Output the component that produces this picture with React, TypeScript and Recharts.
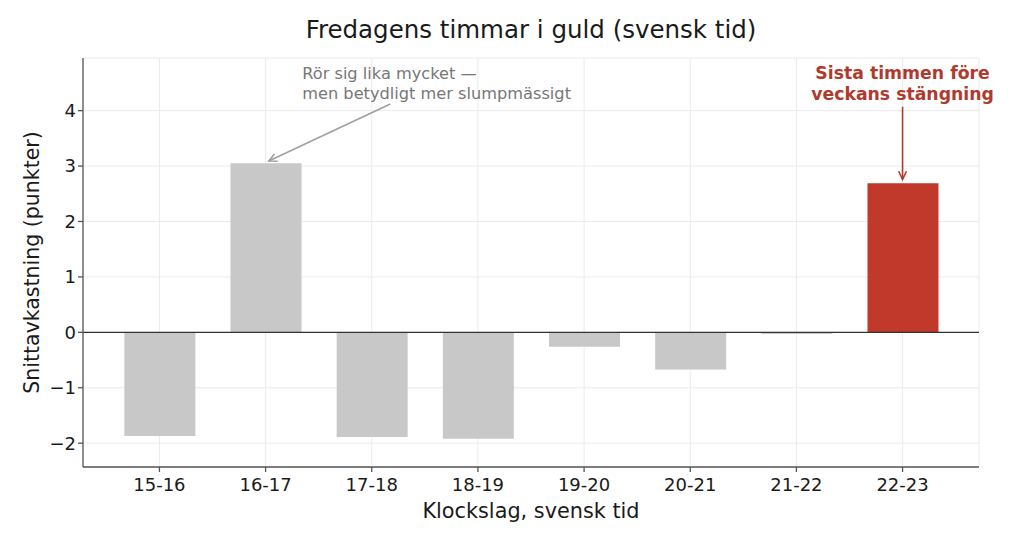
import { BarChart, Bar, Cell, XAxis, YAxis, CartesianGrid, ReferenceLine, ReferenceDot } from "recharts";

// Friday hours, Swedish time
const hours = ["15-16", "16-17", "17-18", "18-19", "19-20", "20-21", "21-22", "22-23"];
const avgReturn = [-1.87, 3.05, -1.89, -1.92, -0.26, -0.67, -0.03, 2.69];
const highlightHour = "22-23";
const yTicks = [-2, -1, 0, 1, 2, 3, 4];

const data = hours.map((h, i) => ({ idx: i, hour: h, value: avgReturn[i] }));
const hlIdx = hours.indexOf(highlightHour);

const FONT = "'DejaVu Sans', sans-serif";
const GRAY = "#c8c8c8";
const RED = "#c0392b";
const NOTE_GRAY = "#777777";
const NOTE_RED = "#b03a2e";
const AXIS = "#555555";

const minus = (v: number) => String(v).replace("-", "\u2212");

// line with an open arrow head at (x2, y2)
const arrow = (color: string) => (p: any) => {
  const { x1, y1, x2, y2 } = p;
  const a = Math.atan2(y2 - y1, x2 - x1);
  const L = 9;
  const s = 0.45;
  const h1x = x2 - L * Math.cos(a - s);
  const h1y = y2 - L * Math.sin(a - s);
  const h2x = x2 - L * Math.cos(a + s);
  const h2y = y2 - L * Math.sin(a + s);
  return (
    <g>
      <line x1={x1} y1={y1} x2={x2} y2={y2} stroke={color} strokeWidth={1.6} />
      <polyline points={`${h1x},${h1y} ${x2},${y2} ${h2x},${h2y}`} fill="none" stroke={color} strokeWidth={1.6} />
    </g>
  );
};

const grayNote = (p: any) => {
  const vb = p.viewBox || {};
  return (
    <text x={vb.x} y={vb.y} fill={NOTE_GRAY} fontSize={16.2} fontFamily={FONT}>
      <tspan x={vb.x} dy={6}>Rör sig lika mycket —</tspan>
      <tspan x={vb.x} dy={20}>men betydligt mer slumpmässigt</tspan>
    </text>
  );
};

const redNote = (p: any) => {
  const vb = p.viewBox || {};
  const cx = vb.x + (vb.width || 0) / 2;
  return (
    <text x={cx} y={vb.y} fill={NOTE_RED} fontSize={17.3} fontWeight="bold" fontFamily={FONT} textAnchor="middle">
      <tspan x={cx} dy={6}>Sista timmen före</tspan>
      <tspan x={cx} dy={21}>veckans stängning</tspan>
    </text>
  );
};

const App = () => {
  return (
    <div style={{ position: "absolute", left: 0, top: 0, width: 1024, height: 540, background: "#fff", fontFamily: FONT }}>
      <div
        style={{
          position: "absolute",
          left: 83,
          width: 896,
          top: 15,
          textAlign: "center",
          fontSize: 24.5,
          color: "#1a1a1a",
        }}
      >
        Fredagens timmar i guld (svensk tid)
      </div>
      <BarChart
        width={1024}
        height={540}
        data={data}
        margin={{ top: 58, right: 45, bottom: 0, left: 0 }}
        style={{ fontFamily: FONT }}
      >
        <CartesianGrid stroke="#ebebeb" strokeWidth={1} />
        <XAxis
          dataKey="idx"
          type="number"
          scale="linear"
          domain={[-0.72, 7.72]}
          allowDataOverflow
          ticks={hours.map((_, i) => i)}
          interval={0}
          tickFormatter={(v: number) => hours[v]}
          height={73}
          stroke={AXIS}
          strokeWidth={1.3}
          tickSize={5}
          tick={{ fill: "#1a1a1a", fontSize: 18, fontFamily: FONT, dy: 4 }}
          label={{ value: "Klockslag, svensk tid", position: "insideBottom", offset: 22, fill: "#1a1a1a", fontSize: 20.8, fontFamily: FONT }}
        />
        <YAxis
          type="number"
          domain={[-2.43, 4.95]}
          ticks={yTicks}
          tickFormatter={minus}
          width={83}
          stroke={AXIS}
          strokeWidth={1.3}
          tickSize={5}
          tick={{ fill: "#1a1a1a", fontSize: 18, fontFamily: FONT }}
          allowDataOverflow
          label={{ value: "Snittavkastning (punkter)", angle: -90, position: "insideLeft", offset: 32, style: { textAnchor: "middle" }, fill: "#1a1a1a", fontSize: 20.5, fontFamily: FONT }}
        />
        <Bar dataKey="value" barSize={71} isAnimationActive={false}>
          {data.map((d) => (
            <Cell key={d.hour} fill={d.idx === hlIdx ? RED : GRAY} />
          ))}
        </Bar>
        <ReferenceLine y={0} stroke="#333" strokeWidth={1.4} />
        <ReferenceLine
          segment={[
            { x: 2.175, y: 4.12 },
            { x: 1.03, y: 3.09 },
          ]}
          shape={arrow("#a0a0a0")}
        />
        <ReferenceLine
          segment={[
            { x: hlIdx, y: 4.07 },
            { x: hlIdx, y: 2.76 },
          ]}
          shape={arrow(NOTE_RED)}
        />
        <ReferenceDot x={1.345} y={4.68} r={0} fill="none" stroke="none" label={{ content: grayNote }} />
        <ReferenceDot x={hlIdx} y={4.68} r={0} fill="none" stroke="none" label={{ content: redNote }} />
      </BarChart>
    </div>
  );
};

export default App;
